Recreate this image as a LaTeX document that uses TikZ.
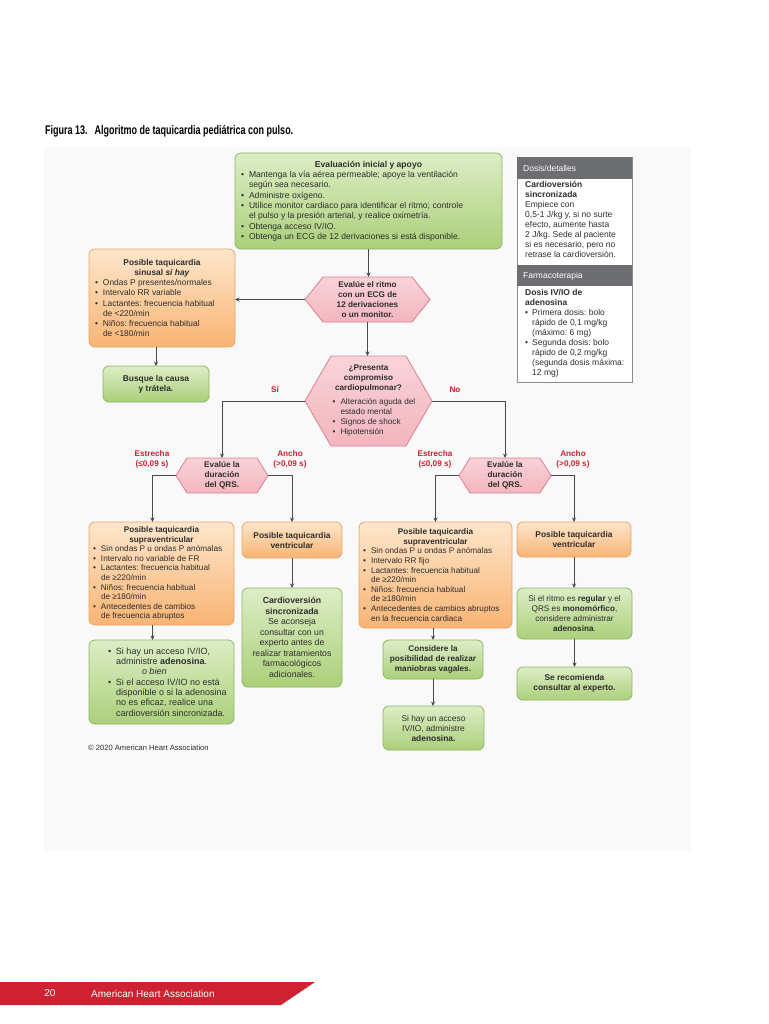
\documentclass[tikz,border=0pt]{standalone}
\usepackage{fontspec}
\setmainfont{Liberation Sans}
\newfontfamily\condfont[FakeStretch=0.72]{Liberation Sans}
\usetikzlibrary{arrows.meta}
\frenchspacing
\definecolor{gtop}{HTML}{DDEDC6}
\definecolor{gbot}{HTML}{ABD07A}
\definecolor{gbd}{HTML}{8DB761}
\definecolor{otop}{HTML}{FEE6CB}
\definecolor{obot}{HTML}{F8B474}
\definecolor{obd}{HTML}{EBA465}
\definecolor{ptop}{HTML}{F9D3D8}
\definecolor{pbot}{HTML}{F3B5BE}
\definecolor{pbd}{HTML}{DC8191}
\definecolor{txt}{HTML}{2E2E2E}
\definecolor{hdr}{HTML}{6D6E71}
\definecolor{sdbd}{HTML}{8A8A8A}
\definecolor{aha}{HTML}{CE2233}
\definecolor{panel}{HTML}{F9F9F9}
\definecolor{arrc}{HTML}{4A4A4A}
\newcommand\fs{\fontsize{8.2}{10}\selectfont}
\newcommand\fss{\fontsize{8.2}{9.6}\selectfont}
\newcommand\bi{\par\noindent\hangindent=8pt\hangafter=1\makebox[8pt][l]{\textbullet}}
\newcommand\sbi{\par\noindent\hangindent=7pt\hangafter=1\makebox[7pt][l]{\textbullet}}
\newcommand\nl{\newline}
\newcommand\boxtxt[2]{\begin{minipage}{#1}\frenchspacing\raggedright #2\end{minipage}}
\newcommand\hexagon[5]{%
  \path[hexs] (#1-#3,#2) -- (#1-#3+#5,#2-#4) -- (#1+#3-#5,#2-#4) -- (#1+#3,#2)
    -- (#1+#3-#5,#2+#4) -- (#1-#3+#5,#2+#4) -- cycle;}
\tikzset{
  box/.style={rounded corners=6pt, line width=0.8pt, inner sep=0pt, outer sep=0pt,
    font=\fs\frenchspacing, text=txt, align=center},
  gbox/.style={box, draw=gbd, top color=gtop, bottom color=gbot},
  obox/.style={box, draw=obd, top color=otop, bottom color=obot},
  hexs/.style={draw=pbd, line width=0.8pt, top color=ptop, bottom color=pbot},
  htext/.style={inner sep=0pt, outer sep=0pt, font=\fs\bfseries, text=txt, align=center},
  arr/.style={draw=arrc, line width=0.9pt, -{Stealth[length=4.5pt,width=4pt]}},
  lab/.style={font=\fs\bfseries, text=aha, align=center, inner sep=0pt},
  sidetxt/.style={anchor=north west, inner sep=0pt, font=\fs, text=txt},
  hdrtxt/.style={anchor=west, inner sep=0pt, font=\fontsize{8.5}{10}\selectfont, text=white}
}
\begin{document}
\begin{tikzpicture}[x=1pt,y=-1pt]
\useasboundingbox (0,0) rectangle (768,1024);
\fill[white] (0,0) rectangle (768,1024);
\fill[panel] (44,147) rectangle (691,850);

% title
\node[anchor=west, inner sep=0pt, font=\condfont\bfseries\fontsize{12.5}{14}\selectfont, text=black] (title) at (45,131)
  {Figura 13.\hspace{7pt}Algoritmo de taquicardia pediátrica con pulso.};

% top box
\node[gbox, minimum width=267pt, minimum height=96pt] (top) at (368.5,201)
  {\boxtxt{255pt}{\fontsize{8.6}{10.3}\selectfont{\centering\bfseries Evaluación inicial y apoyo\par}
  \bi Mantenga la vía aérea permeable; apoye la ventilación\nl según sea necesario.
  \bi Administre oxígeno.
  \bi Utilice monitor cardiaco para identificar el ritmo; controle\nl el pulso y la presión arterial, y realice oximetría.
  \bi Obtenga acceso IV/IO.
  \bi Obtenga un ECG de 12 derivaciones si está disponible.}};

% sidebar
\draw[sdbd, line width=0.8pt, fill=white] (517,157) rectangle (632,382);
\fill[hdr] (517,157) rectangle (632,179);
\fill[hdr] (517,265) rectangle (632,286);
\node[hdrtxt] (sh1) at (523,168) {Dosis/detalles};
\node[hdrtxt] (sh2) at (523,276) {Farmacoterapia};
\node[sidetxt] (sd1) at (525,181)
  {\boxtxt{106pt}{\fontsize{8.5}{10}\selectfont{\bfseries Cardioversión\\sincronizada\par}
  Empiece con\\0,5-1 J/kg y, si no surte\\efecto, aumente hasta\\2 J/kg. Sede al paciente\\si es necesario, pero no\\retrase la cardioversión.}};
\node[sidetxt] (sd2) at (525,289)
  {\boxtxt{106pt}{\fontsize{8.5}{10}\selectfont{\bfseries Dosis IV/IO de\\adenosina\par}
  \sbi Primera dosis: bolo\nl rápido de 0,1 mg/kg\nl (máximo: 6 mg)
  \sbi Segunda dosis: bolo\nl rápido de 0,2 mg/kg\nl (segunda dosis máxima:\nl 12 mg)}};

% sinus box
\node[obox, minimum width=146pt, minimum height=98pt] (sinus) at (162,298)
  {\boxtxt{134pt}{\fontsize{8.4}{10.1}\selectfont{\centering\bfseries Posible taquicardia\\sinusal \textit{si hay}\par}
  \bi Ondas P presentes/normales
  \bi Intervalo RR variable
  \bi Lactantes: frecuencia habitual\nl de <220/min
  \bi Niños: frecuencia habitual\nl de <180/min}};
\node[gbox, minimum width=106pt, minimum height=36pt, font=\fontsize{8.4}{10}\selectfont\bfseries] (busque) at (156,384)
  {Busque la causa\\y trátela.};

% hexagons
\hexagon{367.5}{299.5}{62.5}{22.5}{18}
\node[htext, minimum width=125pt, minimum height=45pt] (h1) at (367.5,299.5)
  {Evalúe el ritmo\\con un ECG de\\12 derivaciones\\o un monitor.};
\hexagon{368.5}{401}{63.5}{45}{26}
\node[inner sep=0pt, outer sep=0pt, minimum width=127pt, minimum height=90pt, text=txt] (h2) at (368.5,401)
  {\boxtxt{100pt}{\fs{\centering\bfseries ¿Presenta\\compromiso\\cardiopulmonar?\par}\vspace{4pt}\leftskip=14pt
  \bi Alteración aguda del\nl estado mental
  \bi Signos de shock
  \bi Hipotensión}};
\hexagon{222}{475.5}{46}{17.5}{11}
\node[htext, minimum width=92pt, minimum height=35pt] (q1) at (222,475.5)
  {Evalúe la\\duración\\del QRS.};
\hexagon{505}{475.5}{46}{17.5}{11}
\node[htext, minimum width=92pt, minimum height=35pt] (q2) at (505,475.5)
  {Evalúe la\\duración\\del QRS.};

% labels
\node[lab] (si) at (275,390) {Sí};
\node[lab] (no) at (455,390) {No};
\node[lab] (estL) at (152,459) {Estrecha\\(≤0,09 s)};
\node[lab] (anchL) at (290,459) {Ancho\\(>0,09 s)};
\node[lab] (estR) at (435,459) {Estrecha\\(≤0,09 s)};
\node[lab] (anchR) at (573,459) {Ancho\\(>0,09 s)};

% left bottom
\node[obox, minimum width=145pt, minimum height=103pt] (svtL) at (161.5,573.5)
  {\boxtxt{137pt}{\fss{\centering\bfseries Posible taquicardia\\supraventricular\par}
  \bi Sin ondas P u ondas P anómalas
  \bi Intervalo no variable de FR
  \bi Lactantes: frecuencia habitual\nl de ≥220/min
  \bi Niños: frecuencia habitual\nl de ≥180/min
  \bi Antecedentes de cambios\nl de frecuencia abruptos}};
\node[obox, minimum width=100pt, minimum height=36pt, font=\fontsize{8.4}{10}\selectfont\bfseries] (tvL) at (292,540)
  {Posible taquicardia\\ventricular};
\node[gbox, minimum width=100pt, minimum height=99pt, font=\fontsize{8.7}{10.5}\selectfont] (cardL) at (292,637.5)
  {\textbf{Cardioversión}\\\textbf{sincronizada}\\Se aconseja\\consultar con un\\experto antes de\\realizar tratamientos\\farmacológicos\\adicionales.};
\node[gbox, minimum width=145pt, minimum height=84pt] (adenoL) at (161.5,682)
  {\boxtxt{135pt}{\fontsize{9}{10.3}\selectfont\leftskip=14pt
  \bi Si hay un acceso IV/IO,\nl administre \textbf{adenosina}.\nl \hspace*{26pt}\textit{o bien}
  \bi Si el acceso IV/IO no está\nl disponible o si la adenosina\nl no es eficaz, realice una\nl cardioversión sincronizada.}};

% right bottom
\node[obox, minimum width=153pt, minimum height=106pt] (svtR) at (435.5,575)
  {\boxtxt{145pt}{\fss{\centering\bfseries Posible taquicardia\\supraventricular\par}
  \bi Sin ondas P u ondas P anómalas
  \bi Intervalo RR fijo
  \bi Lactantes: frecuencia habitual\nl de ≥220/min
  \bi Niños: frecuencia habitual\nl de ≥180/min
  \bi Antecedentes de cambios abruptos\nl en la frecuencia cardiaca}};
\node[obox, minimum width=114pt, minimum height=35pt, font=\fontsize{8.4}{10}\selectfont\bfseries] (tvR) at (574,539.5)
  {Posible taquicardia\\ventricular};
\node[gbox, minimum width=100pt, minimum height=39pt, font=\fs\bfseries] (vagal) at (433,659.5)
  {Considere la\\posibilidad de realizar\\maniobras vagales.};
\node[gbox, minimum width=101pt, minimum height=44pt, font=\fontsize{8.4}{10}\selectfont] (adenoR) at (433.5,728)
  {Si hay un acceso\\IV/IO, administre\\\textbf{adenosina.}};
\node[gbox, minimum width=115pt, minimum height=51pt] (regular) at (574.5,613.5)
  {Si el ritmo es \textbf{regular} y el\\QRS es \textbf{monomórfico},\\considere administrar\\\textbf{adenosina}.};
\node[gbox, minimum width=115pt, minimum height=33pt, font=\fontsize{8.4}{10}\selectfont\bfseries] (experto) at (574.5,683.5)
  {Se recomienda\\consultar al experto.};

% connectors
\draw[arr] (top.south) -- (top.south |- h1.north);
\draw[arr] (h1.west) -- (h1.west -| sinus.east);
\draw[arr] (busque.north |- sinus.south) -- (busque.north);
\draw[arr] (h1.south) -- (h1.south |- h2.north);
\draw[arr] (h2.west) -| (q1.north);
\draw[arr] (h2.east) -| (q2.north);
\draw[arr] (q1.west) -| ([xshift=-9pt]svtL.north);
\draw[arr] (q1.east) -| (tvL.north);
\draw[arr] ([xshift=-9pt]svtL.south) -- ([xshift=-9pt]adenoL.north);
\draw[arr] (tvL.south) -- (cardL.north);
\draw[arr] (q2.west) -| (svtR.north);
\draw[arr] (q2.east) -| (tvR.north);
\draw[arr] (vagal.north |- svtR.south) -- (vagal.north);
\draw[arr] (vagal.south) -- (vagal.south |- adenoR.north);
\draw[arr] (tvR.south) -- (tvR.south |- regular.north);
\draw[arr] (regular.south) -- (regular.south |- experto.north);

% copyright and footer
\node[anchor=west, inner sep=0pt, font=\fontsize{7.6}{9}\selectfont, text=txt] (copy) at (88,748)
  {© 2020 American Heart Association};
\fill[aha] (0,982) -- (315,982) -- (281,1005) -- (0,1005) -- cycle;
\node[inner sep=0pt, font=\fontsize{10}{12}\selectfont, text=white] (pg) at (50,993.5) {20};
\node[anchor=west, inner sep=0pt, font=\fontsize{10}{12}\selectfont, text=white] (foot) at (91,993.5) {American Heart Association};
\end{tikzpicture}
\end{document}
